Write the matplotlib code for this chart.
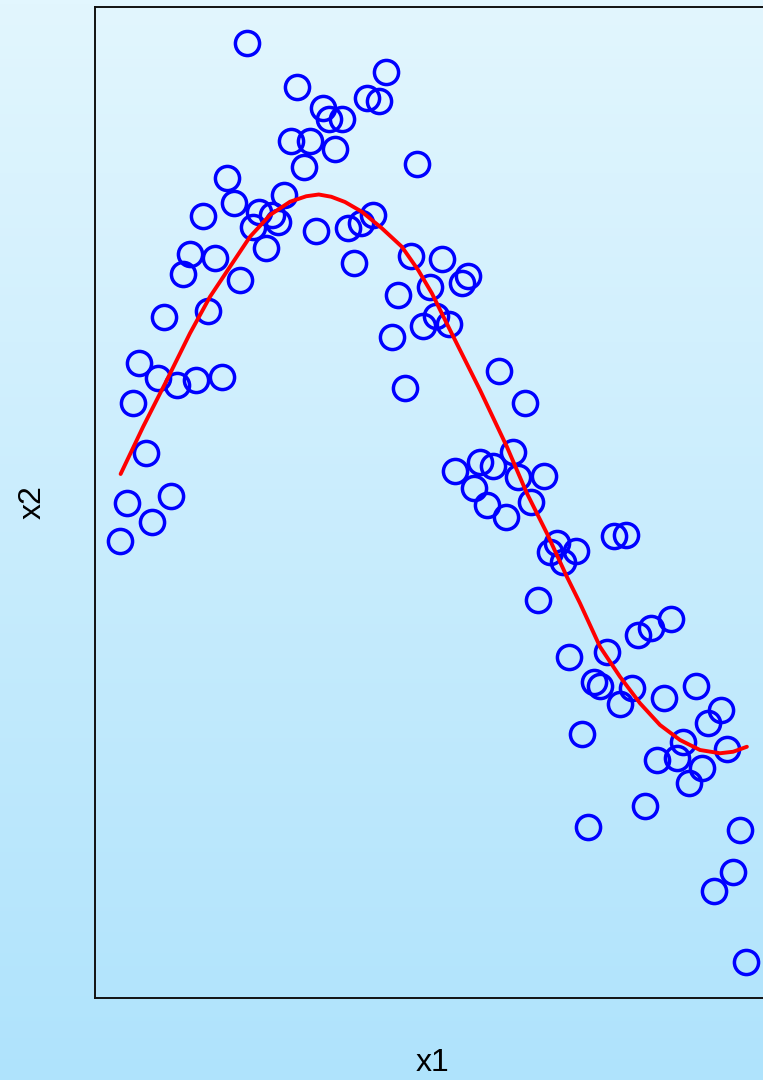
import numpy as np
import matplotlib.pyplot as plt

# Observations
x1 = [0.203, 0.284, 0.425, 0.395, 0.415, 0.324, 0.335, 0.355, 0.274, 0.304,
      0.344, 0.476, 0.294, 0.172, 0.263, 0.182, 0.132, 0.222, 0.243, 0.253,
      0.213, 0.405, 0.386, 0.365, 0.314, 0.233, 0.112, 0.152, 0.101, 0.374,
      0.192, 0.466, 0.516, 0.557, 0.547, 0.496, 0.445, 0.071, 0.141, 0.485,
      0.506, 0.526, 0.436, 0.456, 0.031, 0.061, 0.091, 0.122, 0.163, 0.021,
      0.041, 0.011, 0.082, 0.051, 0.000, 0.607, 0.648, 0.628, 0.536, 0.576,
      0.597, 0.637, 0.678, 0.567, 0.587, 0.617, 0.658, 0.699, 0.688, 0.730,
      0.709, 0.790, 0.810, 0.668, 0.718, 0.779, 0.829, 0.849, 0.881, 0.758,
      0.768, 0.820, 0.800, 0.870, 0.921, 0.961, 0.941, 0.739, 0.901, 0.860,
      0.891, 0.931, 0.972, 0.911, 0.840, 0.749, 0.992, 0.981, 0.951, 1.002]
x2 = [1.827, 1.653, 1.711, 1.607, 1.596, 1.567, 1.523, 1.524, 1.437, 1.437,
      1.403, 1.344, 1.333, 1.288, 1.220, 1.189, 1.137, 1.153, 1.140, 1.113,
      1.093, 1.140, 1.107, 1.087, 1.076, 1.009, 0.983, 0.967, 0.903, 0.947,
      0.880, 0.978, 0.963, 0.896, 0.867, 0.853, 0.820, 0.732, 0.756, 0.696,
      0.736, 0.703, 0.653, 0.447, 0.549, 0.487, 0.460, 0.480, 0.491, 0.387,
      0.189, -0.011, 0.017, -0.087, -0.163, 0.516, 0.389, 0.193, 0.116, 0.151,
      0.137, 0.093, 0.097, 0.047, -0.020, -0.067, -0.009, -0.171, -0.207, -0.203,
      -0.247, -0.143, -0.140, -0.400, -0.627, -0.607, -0.540, -0.513, -0.477, -0.727,
      -0.744, -0.753, -0.817, -0.793, -0.743, -0.840, -0.891, -0.936, -0.967, -1.040,
      -1.033, -1.073, -0.997, -1.133, -1.224, -1.307, -1.320, -1.489, -1.564, -1.849]

# Fitted curve
fit_x1 = [0.001, 0.037, 0.075, 0.112, 0.144, 0.176, 0.208, 0.240, 0.272, 0.298,
          0.318, 0.338, 0.360, 0.387, 0.419, 0.451, 0.477, 0.499, 0.528, 0.576,
          0.619, 0.651, 0.683, 0.715, 0.736, 0.768, 0.800, 0.832, 0.864, 0.896,
          0.928, 0.960, 0.981, 1.003]
fit_x2 = [0.104, 0.293, 0.480, 0.667, 0.813, 0.933, 1.053, 1.140, 1.193, 1.215,
          1.222, 1.213, 1.192, 1.153, 1.087, 1.013, 0.920, 0.827, 0.680, 0.440,
          0.213, 0.027, -0.133, -0.307, -0.413, -0.587, -0.707, -0.813, -0.900, -0.960,
          -1.000, -1.013, -1.007, -0.987]

fig = plt.figure(figsize=(7.63, 10.8), dpi=100)

# light blue vertical gradient behind everything
bg = fig.add_axes([0, 0, 1, 1], zorder=-1)
grad = np.linspace(0, 1, 256)[:, None]
top = np.array([0xE2, 0xF6, 0xFE]) / 255
bottom = np.array([0xAF, 0xE3, 0xFC]) / 255
img = top + (bottom - top) * grad[..., None]
bg.imshow(img, aspect="auto", extent=[0, 1, 0, 1])
bg.axis("off")

ax = fig.add_axes([95 / 763, 82 / 1080, 676 / 763, 991 / 1080])
ax.set_facecolor("none")
ax.plot(x1, x2, "o", ls="none", ms=17.4, mfc="none", mec="#0000FF", mew=2.5)
ax.plot(fit_x1, fit_x2, color="#FF0000", lw=2.8, solid_capstyle="round",
        solid_joinstyle="round")

ax.set_xlim(-0.04, 1.0416)
ax.set_ylim(-1.992, 1.972)
ax.set_xticks([])
ax.set_yticks([])
for s in ax.spines.values():
    s.set_linewidth(1.4)
    s.set_color("#111111")

ax.set_xlabel("x1", fontsize=23, family="Liberation Sans", va="center")
ax.set_ylabel("x2", fontsize=23, family="Liberation Sans", va="center")
ax.xaxis.set_label_coords(0.5, -65 / 991)
ax.yaxis.set_label_coords(-62 / 676, 0.5)

fig.savefig("out.png", dpi=100)
